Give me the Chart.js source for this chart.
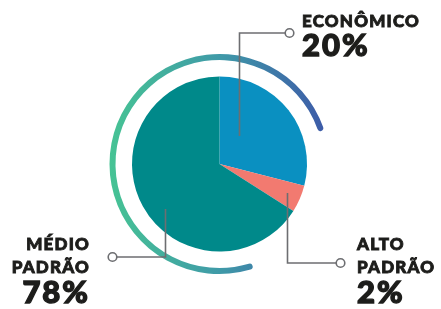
<!DOCTYPE html>
<html>
<head>
<meta charset="utf-8">
<script src="https://cdn.jsdelivr.net/npm/chart.js@4"></script>
<style>
  html, body { margin: 0; padding: 0; background: #fff; }
  #wrap { position: relative; width: 441px; height: 309px; }
  .lbl { position: absolute; font-family: Lato, "Open Sans", sans-serif; font-weight: 900; color: #1d1d1b; line-height: 1; white-space: nowrap; -webkit-text-stroke: 0.9px #1d1d1b; }
  .name { font-size: 17px; letter-spacing: 1.2px; }
  .pct { font-size: 31px; letter-spacing: 2px; -webkit-text-stroke: 1.4px #1d1d1b; }
</style>
</head>
<body>
<div id="wrap">
  <canvas id="pieChart" width="441" height="309"></canvas>
  <div class="lbl" style="left:302px; top:12px;"><div class="name">ECONÔMICO</div><div class="pct" style="margin-top:0px;">20%</div></div>
  <div class="lbl" style="right:351px; top:235px; text-align:right;"><div class="name">MÉDIO</div><div class="name" style="margin-top:6px;">PADRÃO</div><div class="pct" style="margin-top:1px;">78%</div></div>
  <div class="lbl" style="left:357px; top:235px;"><div class="name">ALTO</div><div class="name" style="margin-top:6px;">PADRÃO</div><div class="pct" style="margin-top:1px;">2%</div></div>
</div>
<script>
// labels shown next to the pie, and the slice sizes as drawn in the picture
const categories = ['Econômico', 'Alto padrão', 'Médio padrão'];
const shares = [29, 5, 66];
const sliceColors = ['#0a90c1', '#f27a70', '#00898a'];

// decorative ring around the pie
const ringStart = 162; // degrees from 12 o'clock
const ringSweep = 270;

// leader lines: start and end relative to the pie centre
const leaders = [
    { from: [20, -28], to: [70, -131] },
    { from: [68, 29], to: [121, 99] },
    { from: [-54, 45], to: [-107, 93] },
];

const leaderPlugin = {
    id: 'leaders',
    afterDatasetsDraw(chart) {
        const arc = chart.getDatasetMeta(2).data[0];
        const cx = arc.x, cy = arc.y;
        const ctx = chart.ctx;
        ctx.save();
        ctx.strokeStyle = '#6d6e71';
        ctx.lineWidth = 1.6;
        leaders.forEach(l => {
            const x0 = cx + l.from[0], y0 = cy + l.from[1];
            const x1 = cx + l.to[0], y1 = cy + l.to[1];
            const dir = Math.sign(l.to[0] - l.from[0]);
            ctx.beginPath();
            ctx.moveTo(x0, y0);
            ctx.lineTo(x0, y1);
            ctx.lineTo(x1 - dir * 4.3, y1);
            ctx.stroke();
            ctx.beginPath();
            ctx.arc(x1, y1, 4.3, 0, Math.PI * 2);
            ctx.fillStyle = '#fff';
            ctx.fill();
            ctx.stroke();
        });
        ctx.restore();
    }
};

function ringGradient(context) {
    const area = context.chart.chartArea;
    if (!area) return '#44c295';
    const g = context.chart.ctx.createLinearGradient(area.left, 0, area.right, 0);
    g.addColorStop(0, '#46c394');
    g.addColorStop(0.5, '#3f9aa8');
    g.addColorStop(1, '#3d58a8');
    return g;
}

const ctx = document.getElementById('pieChart').getContext('2d');
new Chart(ctx, {
    type: 'doughnut',
    data: {
        labels: categories,
        datasets: [
            {
                data: [1],
                backgroundColor: ringGradient,
                rotation: ringStart,
                circumference: ringSweep,
                borderRadius: 3,
                weight: 6,
            },
            {
                data: [1],
                backgroundColor: 'rgba(0,0,0,0)',
                weight: 16.5,
            },
            {
                data: shares,
                backgroundColor: sliceColors,
                weight: 87.5,
            },
        ],
    },
    options: {
        responsive: false,
        animation: false,
        cutout: 0,
        layout: { padding: { left: 109.5, right: 111.5, top: 54, bottom: 35 } },
        elements: { arc: { borderWidth: 0, offset: 0, hoverOffset: 0 } },
        plugins: { legend: { display: false }, tooltip: { enabled: false } },
    },
    plugins: [leaderPlugin],
});
</script>
</body>
</html>
